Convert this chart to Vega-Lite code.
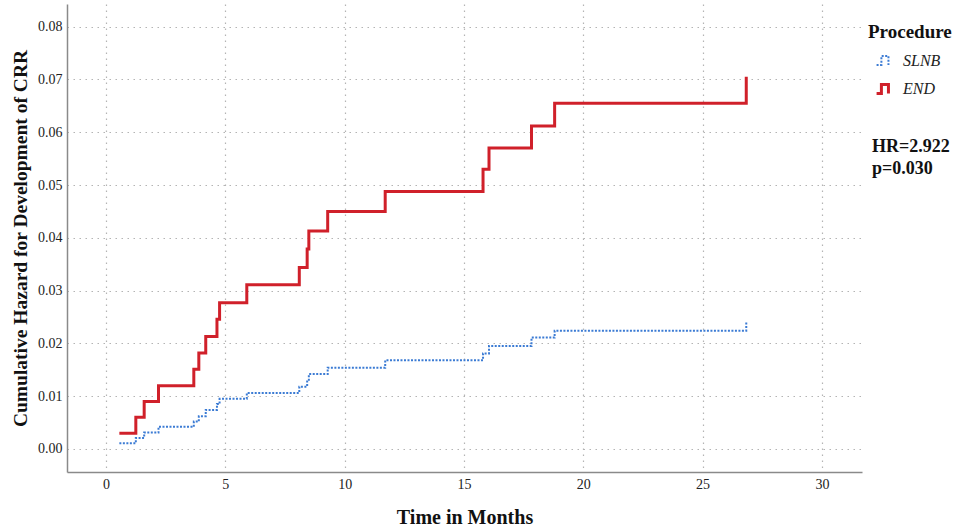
{
  "$schema": "https://vega.github.io/schema/vega-lite/v6.json",
  "autosize": "none",
  "width": 795,
  "height": 468,
  "padding": {"left": 67, "top": 4, "right": 95, "bottom": 56},
  "background": "white",
  "config": {
    "view": {"stroke": null},
    "font": "Liberation Serif",
    "axis": {
      "domainColor": "#8a8a8a",
      "domainWidth": 1.5,
      "ticks": false,
      "gridColor": "#b4b4b4",
      "gridDash": [1.5, 4.5],
      "gridWidth": 1.2,
      "labelFont": "Liberation Serif",
      "labelFontSize": 14,
      "labelColor": "#222222",
      "titleFont": "Liberation Serif",
      "titleFontSize": 20,
      "titleFontWeight": "bold",
      "titleColor": "#111111"
    }
  },
  "layer": [
    {
      "data": {
        "values": [
          {"group": "END", "t": 0.56, "h": 0.0030},
          {"group": "END", "t": 1.25, "h": 0.0060},
          {"group": "END", "t": 1.6, "h": 0.0090},
          {"group": "END", "t": 2.2, "h": 0.0120},
          {"group": "END", "t": 3.68, "h": 0.0151},
          {"group": "END", "t": 3.89, "h": 0.0182},
          {"group": "END", "t": 4.18, "h": 0.0213},
          {"group": "END", "t": 4.65, "h": 0.0246},
          {"group": "END", "t": 4.76, "h": 0.0277},
          {"group": "END", "t": 5.9, "h": 0.0311},
          {"group": "END", "t": 8.1, "h": 0.0344},
          {"group": "END", "t": 8.43, "h": 0.0379},
          {"group": "END", "t": 8.5, "h": 0.0413},
          {"group": "END", "t": 9.29, "h": 0.0450},
          {"group": "END", "t": 11.7, "h": 0.0488},
          {"group": "END", "t": 15.8, "h": 0.0530},
          {"group": "END", "t": 16.05, "h": 0.0570},
          {"group": "END", "t": 17.83, "h": 0.0612},
          {"group": "END", "t": 18.8, "h": 0.0655},
          {"group": "END", "t": 26.83, "h": 0.0705},
          {"group": "SLNB", "t": 0.56, "h": 0.0011},
          {"group": "SLNB", "t": 1.25, "h": 0.0021},
          {"group": "SLNB", "t": 1.6, "h": 0.0031},
          {"group": "SLNB", "t": 2.2, "h": 0.0042},
          {"group": "SLNB", "t": 3.68, "h": 0.0052},
          {"group": "SLNB", "t": 3.89, "h": 0.0062},
          {"group": "SLNB", "t": 4.18, "h": 0.0074},
          {"group": "SLNB", "t": 4.65, "h": 0.0085},
          {"group": "SLNB", "t": 4.76, "h": 0.0095},
          {"group": "SLNB", "t": 5.9, "h": 0.0106},
          {"group": "SLNB", "t": 8.1, "h": 0.0118},
          {"group": "SLNB", "t": 8.43, "h": 0.0131},
          {"group": "SLNB", "t": 8.5, "h": 0.0142},
          {"group": "SLNB", "t": 9.29, "h": 0.0154},
          {"group": "SLNB", "t": 11.7, "h": 0.0168},
          {"group": "SLNB", "t": 15.8, "h": 0.0181},
          {"group": "SLNB", "t": 16.05, "h": 0.0195},
          {"group": "SLNB", "t": 17.83, "h": 0.0211},
          {"group": "SLNB", "t": 18.8, "h": 0.0224},
          {"group": "SLNB", "t": 26.83, "h": 0.0241}
        ]
      },
      "mark": {"type": "line", "interpolate": "step-after", "clip": true},
      "encoding": {
        "x": {
          "field": "t",
          "type": "quantitative",
          "scale": {"domain": [-1.634, 31.68], "nice": false, "zero": false},
          "axis": {
            "title": "Time in Months",
            "values": [0, 5, 10, 15, 20, 25, 30],
            "labelFont": "Liberation Serif",
            "labelPadding": 5,
            "titlePadding": 16,
            "grid": true
          }
        },
        "y": {
          "field": "h",
          "type": "quantitative",
          "scale": {"domain": [-0.00436, 0.0843], "nice": false, "zero": false},
          "axis": {
            "title": "Cumulative Hazard for Development of CRR",
            "titleFontSize": 19.5,
            "values": [0, 0.01, 0.02, 0.03, 0.04, 0.05, 0.06, 0.07, 0.08],
            "format": ".2f",
            "labelFont": "Liberation Serif",
            "labelPadding": 5,
            "titlePadding": 7,
            "grid": true
          }
        },
        "color": {
          "field": "group",
          "type": "nominal",
          "scale": {"domain": ["SLNB", "END"], "range": ["#3b7bd4", "#d0202a"]},
          "legend": {
            "title": "Procedure",
            "orient": "none",
            "legendX": 801,
            "legendY": 19,
            "titleFont": "Liberation Serif",
            "titleFontSize": 19,
            "titleFontWeight": "bold",
            "titleColor": "#111111",
            "titlePadding": 10,
            "labelFont": "Liberation Serif",
            "labelFontSize": 16,
            "labelFontStyle": "italic",
            "labelColor": "#222222",
            "labelOffset": 10,
            "rowPadding": 9,
            "symbolType": "M-1,0.6H-0.35V-0.6H0.6V0.6",
            "symbolSize": 220,
            "symbolOffset": 7,
            "symbolStrokeWidth": 2.5,
            "offset": 0
          }
        },
        "strokeDash": {
          "field": "group",
          "type": "nominal",
          "scale": {"domain": ["SLNB", "END"], "range": [[2, 1.5], [1, 0]]}
        },
        "strokeWidth": {
          "field": "group",
          "type": "nominal",
          "scale": {"domain": ["SLNB", "END"], "range": [2, 3]},
          "legend": null
        }
      }
    },
    {
      "data": {"values": [{}]},
      "mark": {
        "type": "text",
        "text": ["HR=2.922", "p=0.030"],
        "align": "left",
        "baseline": "top",
        "font": "Liberation Serif",
        "fontSize": 18,
        "fontWeight": "bold",
        "fill": "#111111",
        "lineHeight": 22
      },
      "encoding": {
        "x": {"datum": 32.1, "type": "quantitative"},
        "y": {"datum": 0.0589, "type": "quantitative"}
      }
    }
  ]
}
